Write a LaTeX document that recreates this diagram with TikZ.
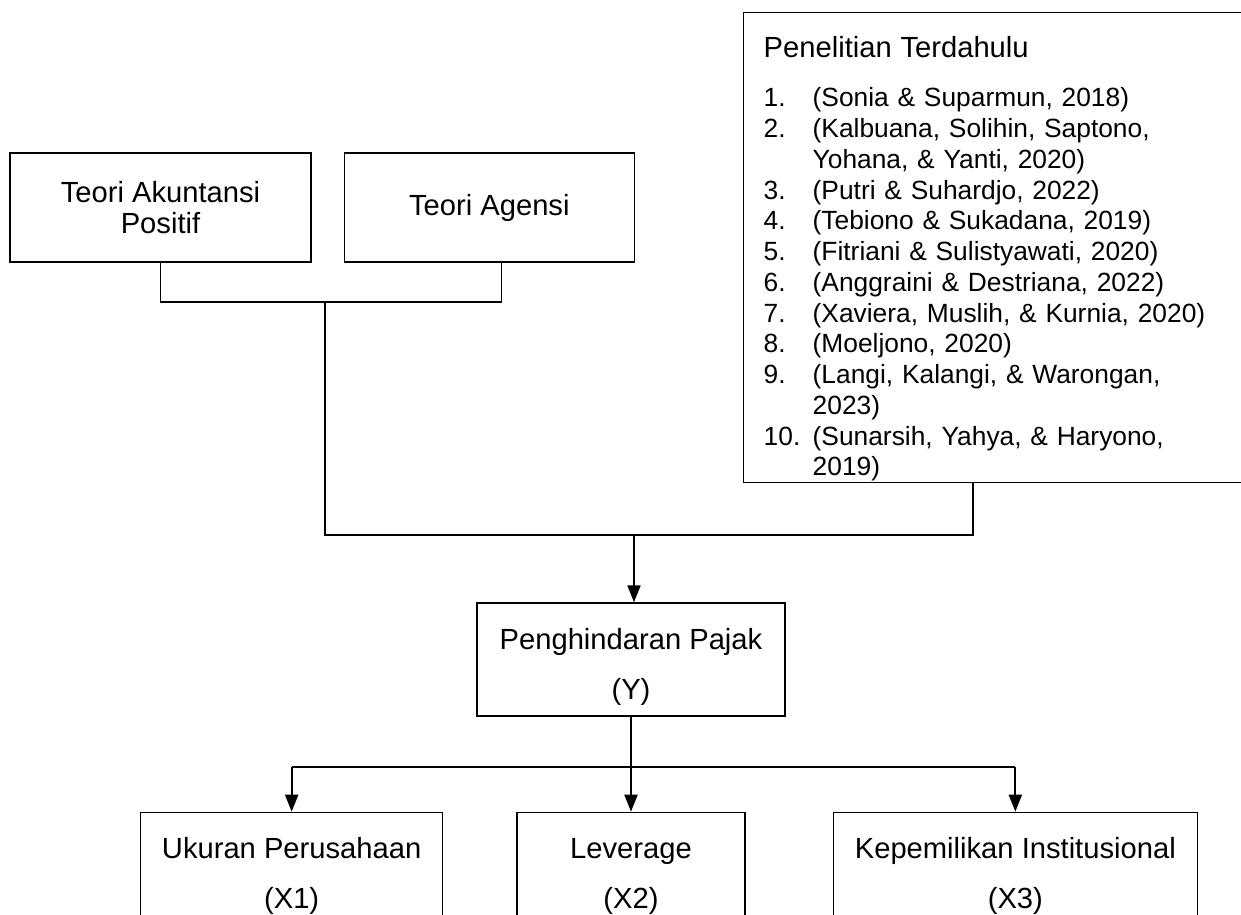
\documentclass[tikz,border=0pt]{standalone}
\usepackage{fontspec}
\setmainfont{Liberation Sans}
\usetikzlibrary{positioning,arrows.meta}
\tikzset{basic/.style={draw,line width=0.8pt,rectangle,align=center,font=\fontsize{16.6}{17.5}\selectfont}}
\tikzset{theory/.style={basic,minimum height=2.18cm}}
\tikzset{prior/.style={basic,align=left,anchor=north west,inner xsep=0.4cm,inner ysep=0.5pt,text width=9.54cm,minimum width=10.34cm,minimum height=9.4cm,font=\fontsize{15}{17.5}\selectfont}}
\tikzset{varbox/.style={basic,minimum height=2.56cm}}
\tikzset{link/.style={draw,line width=0.8pt}}
\tikzset{arrow/.style={draw,line width=1.2pt,-{Triangle[length=0.34cm,width=0.26cm]}}}
\newcommand{\refnum}[1]{\makebox[0.98cm][l]{#1}}
\newcommand{\refcont}{\hspace*{0.98cm}}

\begin{document}
\begin{tikzpicture}[x=0.02cm,y=-0.02cm]
    \clip (0,0) rectangle (1241,915);
    % theories
    \node[theory,minimum width=6.02cm] (positive) at (160.5,207.5) {Teori Akuntansi\\Positif};
    \node[theory,minimum width=5.8cm,right=0.64cm of positive] (agency) {Teori Agensi};
    % previous research
    \node[prior] (research) at (743,12) {\rule{0pt}{24.5pt}{\fontsize{16.6}{17.5}\selectfont Penelitian Terdahulu}\\[0.38cm]
        \refnum{1.}(Sonia \& Suparmun, 2018)\\
        \refnum{2.}(Kalbuana, Solihin, Saptono,\\
        \refcont Yohana, \& Yanti, 2020)\\
        \refnum{3.}(Putri \& Suhardjo, 2022)\\
        \refnum{4.}(Tebiono \& Sukadana, 2019)\\
        \refnum{5.}(Fitriani \& Sulistyawati, 2020)\\
        \refnum{6.}(Anggraini \& Destriana, 2022)\\
        \refnum{7.}(Xaviera, Muslih, \& Kurnia, 2020)\\
        \refnum{8.}(Moeljono, 2020)\\
        \refnum{9.}(Langi, Kalangi, \& Warongan,\\
        \refcont 2023)\\
        \refnum{10.}(Sunarsih, Yahya, \& Haryono,\\
        \refcont 2019)};
    % dependent and independent variables
    \node[basic,minimum width=6.16cm,minimum height=2.26cm] (tax) at (631,659.5) {\rule{0pt}{20pt}Penghindaran Pajak\\[11pt](Y)};
    \node[varbox,minimum width=4.56cm,below=1.9cm of tax] (leverage) {Leverage\\[11pt](X2)};
    \node[varbox,minimum width=6.04cm,left=1.46cm of leverage] (size) {Ukuran Perusahaan\\[11pt](X1)};
    \node[varbox,minimum width=7.28cm,right=1.74cm of leverage] (inst) {Kepemilikan Institusional\\[11pt](X3)};
    % connectors
    \coordinate (theoryjoin) at (325,302);
    \coordinate (agencystub) at ([xshift=0.24cm]agency.south);
    \coordinate (researchstub) at (973,482);
    \coordinate (mainjoin) at (634,535);
    \coordinate (splitbar) at (634,767);
    \draw[link] (positive.south) -- (positive.south |- theoryjoin) -- (agencystub |- theoryjoin) -- (agencystub);
    \draw[link] (theoryjoin) -- (theoryjoin |- mainjoin) -- (researchstub |- mainjoin) -- (researchstub);
    \draw[arrow] (mainjoin) -- (mainjoin |- tax.north);
    \draw[arrow] (tax.south) -- (leverage.north);
    \draw[link] (size.north |- splitbar) -- (inst.north |- splitbar);
    \draw[arrow] (size.north |- splitbar) -- (size.north);
    \draw[arrow] (inst.north |- splitbar) -- (inst.north);
\end{tikzpicture}
\end{document}
